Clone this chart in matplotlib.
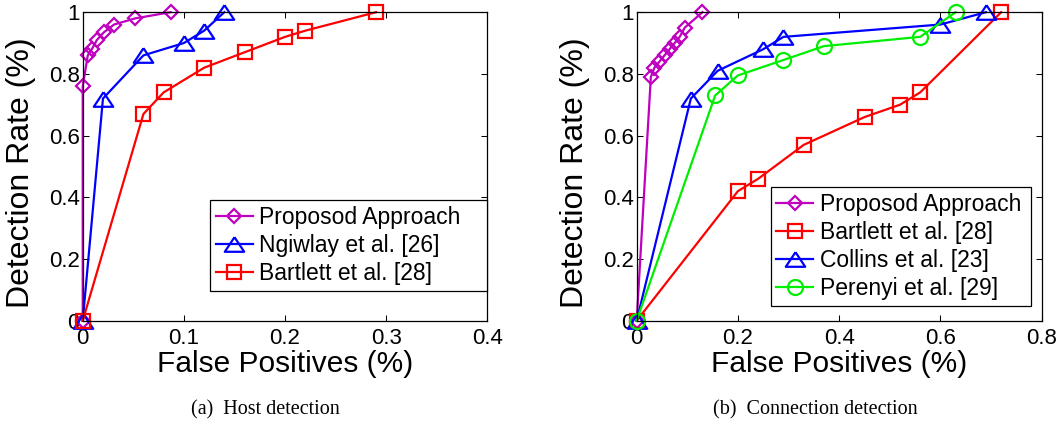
import matplotlib.pyplot as plt
from matplotlib.ticker import FormatStrFormatter

plt.rcParams['font.family'] = ['Liberation Sans', 'DejaVu Sans']

# (a) Host detection
fp_prop_a = [0, 0, 0.005, 0.009, 0.014, 0.021, 0.031, 0.052, 0.087]
dr_prop_a = [0, 0.76, 0.86, 0.88, 0.91, 0.935, 0.96, 0.98, 1.0]
fp_ngiw_a = [0, 0.02, 0.06, 0.10, 0.12, 0.14]
dr_ngiw_a = [0, 0.72, 0.86, 0.90, 0.94, 1.0]
fp_bart_a = [0, 0.06, 0.08, 0.12, 0.16, 0.20, 0.22, 0.29]
dr_bart_a = [0, 0.67, 0.74, 0.82, 0.87, 0.92, 0.94, 1.0]

# (b) Connection detection
fp_prop_b = [0, 0.028, 0.035, 0.045, 0.055, 0.065, 0.075, 0.085, 0.095, 0.13]
dr_prop_b = [0, 0.79, 0.82, 0.84, 0.86, 0.88, 0.90, 0.92, 0.95, 1.0]
fp_bart_b = [0, 0.20, 0.24, 0.33, 0.45, 0.52, 0.56, 0.72]
dr_bart_b = [0, 0.42, 0.46, 0.57, 0.66, 0.70, 0.74, 1.0]
fp_coll_b = [0, 0.107, 0.16, 0.25, 0.29, 0.60, 0.69]
dr_coll_b = [0, 0.72, 0.81, 0.88, 0.92, 0.96, 1.0]
fp_pere_b = [0, 0.155, 0.20, 0.29, 0.37, 0.56, 0.63]
dr_pere_b = [0, 0.73, 0.795, 0.845, 0.89, 0.92, 1.0]

MAG, BLU, RED, GRN = '#bf00bf', '#0000ff', '#ff0000', '#00ee00'
tri = [(0, 0.75), (-1, -0.75), (1, -0.75), (0, 0.75)]  # breites Dreieck wie in Matlab
sty = dict(lw=1.6, mew=1.6, mfc='none', clip_on=False)

fig = plt.figure(figsize=(10.62, 4.26), dpi=100)
ax1 = fig.add_axes([0.0779, 0.2472, 0.381, 0.7242])
ax2 = fig.add_axes([0.5995, 0.2472, 0.3814, 0.7242])

ax1.plot(fp_prop_a, dr_prop_a, color=MAG, marker='D', ms=7.5, label='Proposod Approach', **sty)
ax1.plot(fp_ngiw_a, dr_ngiw_a, color=BLU, marker=tri, ms=14, label='Ngiwlay et al. [26]', **sty)
ax1.plot(fp_bart_a, dr_bart_a, color=RED, marker='s', ms=10, label='Bartlett et al. [28]', **sty)

ax2.plot(fp_prop_b, dr_prop_b, color=MAG, marker='D', ms=7.5, label='Proposod Approach', **sty)
ax2.plot(fp_bart_b, dr_bart_b, color=RED, marker='s', ms=10, label='Bartlett et al. [28]', **sty)
ax2.plot(fp_coll_b, dr_coll_b, color=BLU, marker=tri, ms=14, label='Collins et al. [23]', **sty)
ax2.plot(fp_pere_b, dr_pere_b, color=GRN, marker='o', ms=10.8, label='Perenyi et al. [29]', **sty)

for ax, xmax in ((ax1, 0.4), (ax2, 0.8)):
    ax.set_xlim(0, xmax)
    ax.set_ylim(0, 1)
    ax.set_xticks([i * xmax / 4 for i in range(5)])
    ax.set_yticks([0, 0.2, 0.4, 0.6, 0.8, 1.0])
    ax.xaxis.set_major_formatter(FormatStrFormatter('%g'))
    ax.yaxis.set_major_formatter(FormatStrFormatter('%g'))
    ax.tick_params(direction='in', top=True, right=True, length=4, width=0.75,
                   labelsize=16)
    ax.tick_params(axis='x', pad=5)
    ax.tick_params(axis='y', pad=2)
    for s in ax.spines.values():
        s.set_linewidth(0.9)
    ax.set_xlabel('False Positives (%)', fontsize=21.5)
    ax.set_ylabel('Detection Rate (%)', fontsize=23)
    ax.xaxis.set_label_coords(0.5, -0.095)
    ax.yaxis.set_label_coords(-0.115, 0.48)

leg_kw = dict(loc='upper left', mode='expand', borderaxespad=0, fontsize=16.5,
              handlelength=1.6, handletextpad=0.3, borderpad=0.25,
              labelspacing=0.22, fancybox=False, framealpha=1, edgecolor='k')
l1 = ax1.legend(bbox_to_anchor=(0.315, 0.0, 0.684, 0.391), **leg_kw)
l2 = ax2.legend(bbox_to_anchor=(0.331, 0.0, 0.642, 0.432), **leg_kw)
for l in (l1, l2):
    l.get_frame().set_linewidth(0.9)

fig.text(0.2495, 0.0275, '(a)  Host detection', ha='center', va='baseline',
         family='Liberation Serif', fontsize=14.5)
fig.text(0.7674, 0.0275, '(b)  Connection detection', ha='center', va='baseline',
         family='Liberation Serif', fontsize=14.5)

plt.savefig('out.png', dpi=100)
